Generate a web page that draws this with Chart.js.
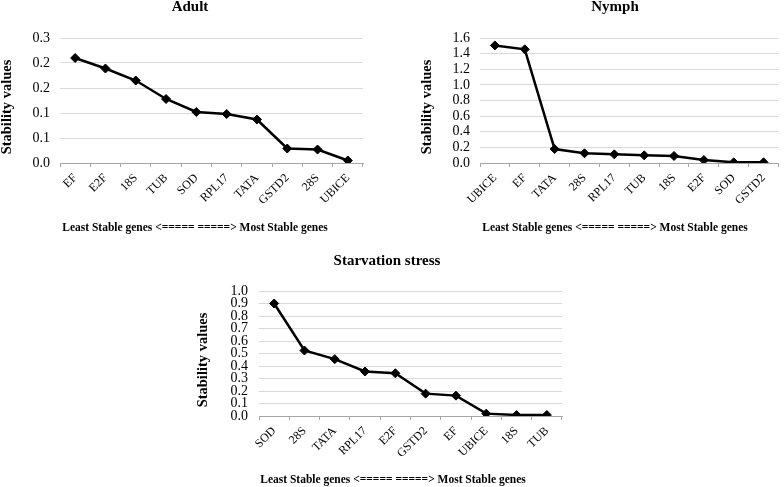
<!DOCTYPE html>
<html>
<head>
<meta charset="utf-8">
<script src="https://cdn.jsdelivr.net/npm/chart.js@4.4.1/dist/chart.umd.min.js"></script>
<style>
  html, body { margin: 0; padding: 0; background: #fff; overflow: hidden; }
  body { width: 784px; height: 487px; position: relative; }
  canvas { position: absolute; }
</style>
</head>
<body>
<canvas id="adult" width="390" height="235" style="left:0;top:0;width:390px;height:235px"></canvas>
<canvas id="nymph" width="394" height="235" style="left:390px;top:0;width:394px;height:235px"></canvas>
<canvas id="starv" width="420" height="257" style="left:180px;top:230px;width:420px;height:257px"></canvas>
<script>
// data
const adultGenes = ['EF', 'E2F', '18S', 'TUB', 'SOD', 'RPL17', 'TATA', 'GSTD2', '28S', 'UBICE'];
const adultValues = [0.210, 0.189, 0.165, 0.128, 0.102, 0.098, 0.087, 0.029, 0.027, 0.005];
const adultTicks = ['0.0', '0.1', '0.1', '0.2', '0.2', '0.3'];

const nymphGenes = ['UBICE', 'EF', 'TATA', '28S', 'RPL17', 'TUB', '18S', 'E2F', 'SOD', 'GSTD2'];
const nymphValues = [1.505, 1.455, 0.179, 0.124, 0.111, 0.098, 0.090, 0.038, 0.009, 0.009];
const nymphTicks = ['0.0', '0.2', '0.4', '0.6', '0.8', '1.0', '1.2', '1.4', '1.6'];

const starvGenes = ['SOD', '28S', 'TATA', 'RPL17', 'E2F', 'GSTD2', 'EF', 'UBICE', '18S', 'TUB'];
const starvValues = [0.900, 0.524, 0.455, 0.356, 0.342, 0.179, 0.163, 0.019, 0.008, 0.008];
const starvTicks = ['0.0', '0.1', '0.2', '0.3', '0.4', '0.5', '0.6', '0.7', '0.8', '0.9', '1.0'];

const xTitle = 'Least Stable genes <===== =====> Most Stable genes';
const yTitle = 'Stability values';
const serif = '"Liberation Serif", "Times New Roman", serif';

// draws the chart title, the y title and the bottom caption where Excel put them
const captions = {
	id: 'captions',
	afterDraw(chart, args, opts) {
		const ctx = chart.ctx;
		ctx.save();
		ctx.fillStyle = '#000';
		ctx.textAlign = 'center';
		ctx.textBaseline = 'middle';
		ctx.font = `bold 15px ${serif}`;
		ctx.fillText(opts.title, opts.titleX, opts.titleY);
		ctx.font = `bold 11.5px ${serif}`;
		ctx.fillText(xTitle, opts.footX, opts.footY);
		ctx.translate(opts.yX, opts.yY);
		ctx.rotate(-Math.PI / 2);
		ctx.font = `bold 14.5px ${serif}`;
		ctx.fillText(yTitle, 0, 0);
		ctx.restore();
	}
};

function makeChart(id, genes, values, tickLabels, yMax, step, box, caps) {
	return new Chart(document.getElementById(id), {
		type: 'line',
		data: {
			labels: genes,
			datasets: [{
				data: values,
				borderColor: '#000',
				borderWidth: 2.5,
				tension: 0,
				pointStyle: 'rectRot',
				pointRadius: 4.5,
				pointBackgroundColor: '#000',
				pointBorderColor: '#000',
				pointBorderWidth: 1
			}]
		},
		options: {
			responsive: false,
			animation: false,
			devicePixelRatio: 1,
			layout: { padding: { top: box.top, right: box.right, left: 0, bottom: 0 } },
			plugins: {
				legend: { display: false },
				tooltip: { enabled: false },
				captions: caps
			},
			scales: {
				x: {
					offset: true,
					grid: { offset: true, drawOnChartArea: false, drawTicks: true, tickLength: 4, color: '#a6a6a6' },
					border: { display: true, color: '#a6a6a6' },
					ticks: {
						autoSkip: false, minRotation: 45, maxRotation: 45, padding: 4,
						color: '#000', font: { family: serif, size: 12 }
					},
					afterFit(scale) { scale.height = box.xh; }
				},
				y: {
					min: 0,
					max: yMax,
					grid: { color: '#d9d9d9', drawTicks: false },
					border: { display: false },
					ticks: {
						stepSize: step, autoSkip: false, padding: box.tp, color: '#000',
						font: { family: serif, size: 14 },
						callback: (v, i) => tickLabels[i]
					},
					afterFit(scale) { scale.width = box.yw; }
				}
			}
		},
		plugins: [captions]
	});
}

makeChart('adult', adultGenes, adultValues, adultTicks, 0.25, 0.05,
	{ top: 38, right: 27, xh: 72, yw: 60, tp: 10 },
	{ title: 'Adult', titleX: 190, titleY: 7.5, footX: 195, footY: 228, yX: 7.5, yY: 107 });

makeChart('nymph', nymphGenes, nymphValues, nymphTicks, 1.6, 0.2,
	{ top: 38, right: 1, xh: 72, yw: 90, tp: 10 },
	{ title: 'Nymph', titleX: 225, titleY: 7.5, footX: 225, footY: 228, yX: 37, yY: 107 });

makeChart('starv', starvGenes, starvValues, starvTicks, 1.0, 0.1,
	{ top: 61, right: 38, xh: 71, yw: 79, tp: 11 },
	{ title: 'Starvation stress', titleX: 207, titleY: 31, footX: 213, footY: 250, yX: 23, yY: 130 });
</script>
</body>
</html>
